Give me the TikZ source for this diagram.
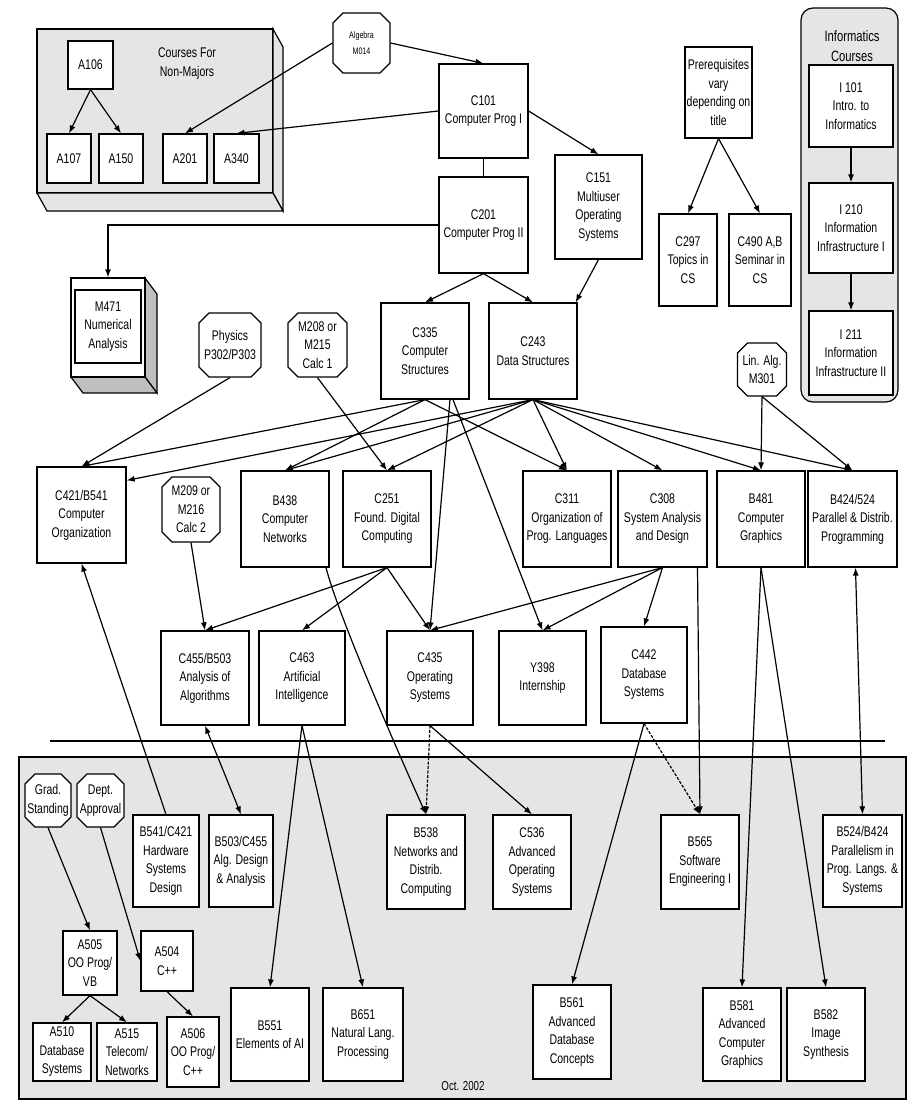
\documentclass[tikz,border=0pt]{standalone}
\usepackage{fontspec}
\setmainfont{Liberation Sans}[FakeStretch=0.75]
\usepackage{tikz}
\usetikzlibrary{arrows.meta,shapes.misc}

\tikzset{
  course/.style 2 args={draw, fill=white, align=center, inner sep=1pt,
    minimum width=#1, minimum height=#2, font=\fontsize{14}{18.5}\selectfont},
  prereq/.style 2 args={course={#1}{#2}, chamfered rectangle, inner sep=0pt,
    chamfered rectangle xsep=5pt, chamfered rectangle ysep=5pt},
  panel/.style={draw, fill=black!10},
  link/.style={-{Latex[length=8pt,width=6pt]}},
  twoway/.style={{Latex[length=8pt,width=6pt]}-{Latex[length=8pt,width=6pt]}},
  soft/.style={dash pattern=on 3pt off 1.5pt},
}

\begin{document}
\begin{tikzpicture}[x=1pt, y=-1pt, line width=1.2pt]
\useasboundingbox (0,0) rectangle (907,1100);

% backgrounds
\draw[panel] (19,757) rectangle (906,1099);
\draw (50,741) -- (885,741);
\draw[panel] (37,29) rectangle (273,193);
\draw[panel] (273,29) -- (283,47) -- (283,211) -- (273,193) -- cycle;
\draw[panel] (37,193) -- (273,193) -- (283,211) -- (47,211) -- cycle;
\draw[panel, rounded corners=12pt] (801,8) rectangle (898,402);
\draw[fill=black!25] (145,278) -- (157,294) -- (157,393) -- (145,377) -- cycle;
\draw[fill=black!25] (71,377) -- (145,377) -- (157,393) -- (83,393) -- cycle;

\node[align=center, font=\fontsize{14}{19}\selectfont] at (187,64)(nonmajtitle){Courses For\\Non-Majors};
\node[align=center, font=\fontsize{15}{20}\selectfont] at (852,46)(infotitle){Informatics\\Courses};
\node[font=\fontsize{13}{14}\selectfont] at (463,1086)(date){Oct. 2002};

% top row
\node[course={45pt}{48pt}] at (90.5,65)(a106){A106};
\node[course={44pt}{49pt}] at (69,158.5)(a107){A107};
\node[course={44pt}{49pt}] at (121,158.5)(a150){A150};
\node[course={44pt}{49pt}] at (185,158.5)(a201){A201};
\node[course={45pt}{49pt}] at (236.5,158.5)(a340){A340};
\node[prereq={57pt}{60pt}, font=\fontsize{9.5}{16}\selectfont] at (361.5,43)(algebra){Algebra\\M014};
\node[course={89pt}{94pt}] at (483.5,111)(c101){C101\\Computer Prog I};
\node[course={89pt}{96pt}] at (483.5,225)(c201){C201\\Computer Prog II};
\node[course={87pt}{104pt}] at (598.5,207)(c151){C151\\Multiuser\\Operating\\Systems};
\node[course={67pt}{91pt}] at (718.5,92.5)(prereqnote){Prerequisites\\vary\\depending on\\title};
\node[course={58pt}{92pt}] at (688,260)(c297){C297\\Topics in\\CS};
\node[course={62pt}{92pt}] at (760,260)(c490){C490 A,B\\Seminar in\\CS};
\node[course={84pt}{82pt}] at (851,106)(i101){I 101\\Intro. to\\Informatics};
\node[course={84pt}{90pt}] at (851,228)(i210){I 210\\Information\\Infrastructure I};
\node[course={84pt}{84pt}] at (851,353)(i211){I 211\\Information\\Infrastructure II};

% second row
\node[course={74pt}{99pt}] at (108,327.5)(m471box){};
\node[course={66pt}{73pt}] at (108,326.5)(m471){M471\\Numerical\\Analysis};
\node[prereq={58pt}{64pt}] at (230,345)(physics){Physics\\P302/P303};
\node[prereq={59pt}{64pt}] at (317.5,345)(m208){M208 or\\M215\\Calc 1};
\node[course={88pt}{96pt}] at (425,351)(c335){C335\\Computer\\Structures};
\node[course={88pt}{96pt}] at (533,351)(c243){C243\\Data Structures};
\node[prereq={48pt}{53pt}] at (762,369.5)(linalg){Lin. Alg.\\M301};

% third row
\node[course={89pt}{96pt}] at (81.5,515)(c421){C421/B541\\Computer\\Organization};
\node[prereq={58pt}{65pt}] at (191,509.5)(m209){M209 or\\M216\\Calc 2};
\node[course={88pt}{96pt}] at (285,519)(b438){B438\\Computer\\Networks};
\node[course={88pt}{96pt}] at (387,519)(c251){C251\\Found. Digital\\Computing};
\node[course={88pt}{96pt}] at (567,519)(c311){C311\\Organization of\\Prog. Languages};
\node[course={89pt}{96pt}] at (662.5,519)(c308){C308\\System Analysis\\and Design};
\node[course={88pt}{96pt}] at (761,519)(b481){B481\\Computer\\Graphics};
\node[course={89pt}{96pt}] at (852.5,519)(b424){B424/524\\Parallel \& Distrib.\\Programming};

% fourth row
\node[course={88pt}{94pt}] at (205,678)(c455){C455/B503\\Analysis of\\Algorithms};
\node[course={86pt}{94pt}] at (302,678)(c463){C463\\Artificial\\Intelligence};
\node[course={86pt}{94pt}] at (430,678)(c435){C435\\Operating\\Systems};
\node[course={87pt}{94pt}] at (542.5,678)(y398){Y398\\Internship};
\node[course={86pt}{96pt}] at (644,675)(c442){C442\\Database\\Systems};

% graduate courses
\node[prereq={46pt}{53pt}, inner xsep=-4pt] at (48,800.5)(grad){Grad.\\Standing};
\node[prereq={47pt}{53pt}, inner xsep=-4pt] at (100.5,800.5)(dept){Dept.\\Approval};
\node[course={66pt}{92pt}] at (166,861)(b541){B541/C421\\Hardware\\Systems\\Design};
\node[course={64pt}{92pt}] at (241,861)(b503){B503/C455\\Alg. Design\\\& Analysis};
\node[course={78pt}{94pt}] at (426,862)(b538){B538\\Networks and\\Distrib.\\Computing};
\node[course={78pt}{94pt}] at (532,862)(c536){C536\\Advanced\\Operating\\Systems};
\node[course={78pt}{94pt}] at (700,862)(b565){B565\\Software\\Engineering I};
\node[course={79pt}{92pt}] at (862.5,861)(b524){B524/B424\\Parallelism in\\Prog. Langs. \&\\Systems};
\node[course={54pt}{64pt}] at (90,963)(a505){A505\\OO Prog/\\VB};
\node[course={52pt}{60pt}] at (167,961)(a504){A504\\C++};
\node[course={58pt}{58pt}] at (62,1052)(a510){A510\\Database\\Systems};
\node[course={60pt}{58pt}] at (127,1052)(a515){A515\\Telecom/\\Networks};
\node[course={52pt}{70pt}] at (193,1052)(a506){A506\\OO Prog/\\C++};
\node[course={78pt}{93pt}] at (270,1034.5)(b551){B551\\Elements of AI};
\node[course={80pt}{93pt}] at (363,1034.5)(b651){B651\\Natural Lang.\\Processing};
\node[course={78pt}{94pt}] at (572,1032)(b561){B561\\Advanced\\Database\\Concepts};
\node[course={78pt}{93pt}] at (742,1034.5)(b581){B581\\Advanced\\Computer\\Graphics};
\node[course={78pt}{93pt}] at (826,1034.5)(b582){B582\\Image\\Synthesis};

% prerequisites
\draw[link] (algebra.west) -- (a201.north);
\draw[link] (algebra.east) -- (c101.north);
\draw[link] (c101.west) -- (a340.north);
\draw[link] (a106.south) -- (a107.north);
\draw[link] (a106.south) -- (a150.north);
\draw (c101.south) -- (c201.north);
\draw[link] (c101.east) -- (c151.north);
\draw[link] (c201.west) -| (m471box.north);
\draw[link] (c201.south) -- (c335.north);
\draw[link] (c201.south) -- (c243.north);
\draw[link] (c151.south) -- ([xshift=-2pt]c243.north east);
\draw[link] (prereqnote.south) -- (c297.north);
\draw[link] (prereqnote.south) -- (c490.north);
\draw[link] (i101) -- (i210);
\draw[link] (i210) -- (i211);
\draw[link] (physics.south) -- (c421.north);
\draw[link] (m208.south) -- (c251.north);
\draw[link] (c335.south) -- (c421.north);
\draw[link] (c335.south) -- (b438.north);
\draw[link] (c335.south) -- (c311.north);
\draw[link] ([xshift=25pt]c335.south) -- (c435.north);
\draw[link] ([xshift=28pt]c335.south) -- (y398.north);
\draw[link] (c243.south) -- ([yshift=-14pt]c421.north east);
\draw[link] (c243.south) -- (b438.north);
\draw[link] (c243.south) -- (c251.north);
\draw[link] (c243.south) -- (c311.north);
\draw[link] (c243.south) -- (c308.north);
\draw[link] (c243.south) -- (b481.north);
\draw[link] (c243.south) -- (b424.north);
\draw[link] (linalg.south) -- (b481.north);
\draw[link] (linalg.south) -- (b424.north);
\draw[link] (m209.south) -- (c455.north);
\draw[link] (c251.south) -- (c455.north);
\draw[link] (c251.south) -- (c463.north);
\draw[link] (c251.south) -- (c435.north);
\draw[link] (c308.south) -- (c435.north);
\draw[link] (c308.south) -- (y398.north);
\draw[link] (c308.south) -- (c442.north);
\draw[link] ([xshift=35pt]c308.south) -- (b565.north);
\draw[link] ([xshift=41pt]b438.south) .. controls (338,615) and (398,752) .. (b538.north);
\draw[link, soft] (c435.south) -- (b538.north);
\draw[link] (c435.south) -- (c536.north);
\draw[link] (c442.south) -- (b561.north);
\draw[link, soft] (c442.south) -- (b565.north);
\draw[link] (b481.south) -- (b581.north);
\draw[link] (b481.south) -- (b582.north);
\draw[twoway] ([xshift=3pt]b424.south) -- (b524.north);
\draw[twoway] (c455.south) -- (b503.north);
\draw[link] (c463.south) -- (b551.north);
\draw[link] (c463.south) -- (b651.north);
\draw[link] (b541.north) -- (c421.south);
\draw[link] (grad.south) -- (a505.north);
\draw[link] (dept.south) -- (a504.west);
\draw[link] (a505.south) -- (a510.north);
\draw[link] (a505.south) -- (a515.north);
\draw[link] (a504.south) -- (a506.north);
\end{tikzpicture}
\end{document}
